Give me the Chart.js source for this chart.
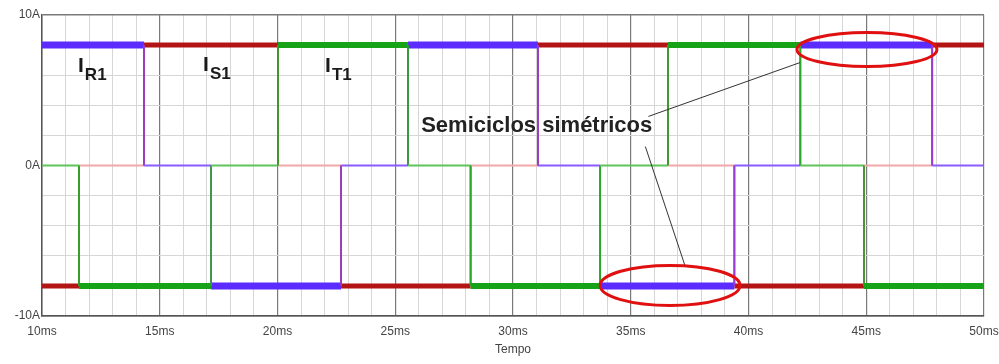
<!DOCTYPE html>
<html>
<head>
<meta charset="utf-8">
<script src="https://cdn.jsdelivr.net/npm/chart.js@4/dist/chart.umd.min.js"></script>
<style>
html,body{margin:0;padding:0;background:#fff;}
#c{display:block;}
</style>
</head>
<body>
<canvas id="c" width="999" height="364"></canvas>
<script>
// ---- data (time in ms, current in A) ----
const timesR = [10, 14.33, 17.18, 22.7, 25.54, 31.06, 33.7, 39.4, 42.2, 47.8, 50];
const levelsR = [8, 0, -8, 0, 8, 0, -8, 0, 8, 0];
const timesS = [10, 11.57, 14.33, 20.02, 22.7, 28.2, 31.06, 36.58, 39.4, 44.9, 47.8, 50];
const levelsS = [-8, 0, 8, 0, -8, 0, 8, 0, -8, 0, 8];
const timesT = [10, 11.57, 17.18, 20.02, 25.54, 28.2, 33.7, 36.58, 42.2, 44.9, 50];
const levelsT = [0, -8, 0, 8, 0, -8, 0, 8, 0, -8];
const xTickLabels = ['10ms','15ms','20ms','25ms','30ms','35ms','40ms','45ms','50ms'];
const yTickLabels = {'-10':'-10A','0':'0A','10':'10A'};
const xTitle = 'Tempo';
// annotations (data coordinates)
const seriesLabels = [
  {main:'I', sub:'R1', x:11.53, y:6.2},
  {main:'I', sub:'S1', x:16.84, y:6.3},
  {main:'I', sub:'T1', x:22.02, y:6.2}
];
const noteText = {text:'Semiciclos simétricos', x:26.1, y:2.2};
const ellipses = [
  {x:45.03, y:7.71, rx:2.97, ry:1.13},
  {x:36.67, y:-7.97, rx:2.97, ry:1.33}
];
const pointers = [
  {x0:35.75, y0:3.26, x1:42.19, y1:6.84},
  {x0:35.62, y0:1.26, x1:37.3, y1:-6.64}
];

function buildPoints(times, levels){
  const pts = [];
  for(let i=0;i<levels.length;i++){
    pts.push({x:times[i], y:levels[i]});
    pts.push({x:times[i+1], y:levels[i]});
  }
  return pts;
}

function seg(colors, flatW){
  return {
    borderWidth: ctx => {
      const a = ctx.p0.parsed, b = ctx.p1.parsed;
      if (a.y === b.y) return a.y === 0 ? 1.8 : flatW;
      return 1.8;
    },
    borderColor: ctx => {
      const a = ctx.p0.parsed, b = ctx.p1.parsed;
      if (a.y === b.y) return a.y === 0 ? colors.zero : colors.main;
      return colors.vert;
    }
  };
}

const annotPlugin = {
  id:'annot',
  afterDatasetsDraw(chart){
    const ctx = chart.ctx, xs = chart.scales.x, ys = chart.scales.y;
    ctx.save();
    ctx.strokeStyle = '#333';
    ctx.lineWidth = 1;
    pointers.forEach(p=>{
      ctx.beginPath();
      ctx.moveTo(xs.getPixelForValue(p.x0), ys.getPixelForValue(p.y0));
      ctx.lineTo(xs.getPixelForValue(p.x1), ys.getPixelForValue(p.y1));
      ctx.stroke();
    });
    ctx.strokeStyle = '#e01010';
    ctx.lineWidth = 3;
    ellipses.forEach(e=>{
      const cx = xs.getPixelForValue(e.x), cy = ys.getPixelForValue(e.y);
      const rx = Math.abs(xs.getPixelForValue(e.x+e.rx)-cx);
      const ry = Math.abs(ys.getPixelForValue(e.y+e.ry)-cy);
      ctx.beginPath();
      ctx.ellipse(cx, cy, rx, ry, 0, 0, Math.PI*2);
      ctx.stroke();
    });
    ctx.fillStyle = '#1a1a1a';
    ctx.textBaseline = 'alphabetic';
    ctx.textAlign = 'left';
    seriesLabels.forEach(l=>{
      const px = xs.getPixelForValue(l.x), py = ys.getPixelForValue(l.y);
      ctx.font = 'bold 21px "Liberation Sans", Arial, sans-serif';
      ctx.fillText(l.main, px, py);
      const w = ctx.measureText(l.main).width;
      ctx.font = 'bold 17px "Liberation Sans", Arial, sans-serif';
      ctx.fillText(l.sub, px + w + 1, py + 8);
    });
    ctx.font = 'bold 22px "Liberation Sans", Arial, sans-serif';
    ctx.fillStyle = '#222';
    ctx.fillText(noteText.text, xs.getPixelForValue(noteText.x), ys.getPixelForValue(noteText.y));
    ctx.restore();
  }
};

const bgPlugin = {
  id:'bg',
  beforeDraw(chart){
    const c = chart.ctx;
    c.save(); c.fillStyle = '#fff'; c.fillRect(0,0,chart.width,chart.height); c.restore();
  }
};

const FONT = '"Liberation Sans", Arial, sans-serif';

new Chart(document.getElementById('c'), {
  type:'line',
  data:{
    datasets:[
      {label:'IT1', data:buildPoints(timesT, levelsT), order:0,
       borderColor:'#17a317', pointRadius:0,
       segment: seg({main:'#17a317', zero:'#5fc45a', vert:'#2aa62a'}, 6)},
      {label:'IR1', data:buildPoints(timesR, levelsR), order:1,
       borderColor:'#5c2cff', pointRadius:0,
       segment: seg({main:'#5c2cff', zero:'#8a5cff', vert:'#9a3ad0'}, 7)},
      {label:'IS1', data:buildPoints(timesS, levelsS), order:2,
       borderColor:'#b31414', pointRadius:0,
       segment: seg({main:'#b31414', zero:'#f2a8a8', vert:'#c03030'}, 5)}
    ]
  },
  options:{
    responsive:false,
    animation:false,
    devicePixelRatio:1,
    layout:{padding:{left:0,right:15,top:15,bottom:0}},
    plugins:{legend:{display:false}, tooltip:{enabled:false}},
    elements:{line:{tension:0, borderCapStyle:'butt', borderJoinStyle:'miter'}},
    scales:{
      x:{
        type:'linear', min:10, max:50,
        afterFit: a => { a.height = 48; a.paddingRight = 0; a.paddingLeft = 0; },
        ticks:{
          stepSize:1, autoSkip:false, maxRotation:0, padding:8,
          color:'#444', font:{family:FONT, size:12},
          callback: v => (v % 5 === 0) ? xTickLabels[(v-10)/5] : ''
        },
        grid:{
          drawTicks:false,
          color: c => (c.tick && c.tick.value % 5 === 0) ? '#7a7a7a' : '#d6d6d6',
          lineWidth: c => (c.tick && c.tick.value % 5 === 0) ? 1.2 : 1
        },
        border:{color:'#555', width:1.5},
        title:{display:true, text:xTitle, color:'#444',
               font:{family:FONT, size:12},
               padding:{top:2,bottom:7}}
      },
      y:{
        type:'linear', min:-10, max:10,
        afterFit: a => { a.width = 42; a.paddingTop = 0; a.paddingBottom = 0; },
        ticks:{
          stepSize:2, autoSkip:false, padding:2,
          color:'#444', font:{family:FONT, size:12},
          callback: v => yTickLabels[String(v)] || ''
        },
        grid:{
          drawTicks:false,
          color: c => (c.tick && Math.abs(c.tick.value) === 10) ? '#7a7a7a' : '#d6d6d6',
          lineWidth: c => (c.tick && Math.abs(c.tick.value) === 10) ? 1.5 : 1
        },
        border:{color:'#555', width:1.5}
      }
    }
  },
  plugins:[bgPlugin, annotPlugin]
});
</script>
</body>
</html>
